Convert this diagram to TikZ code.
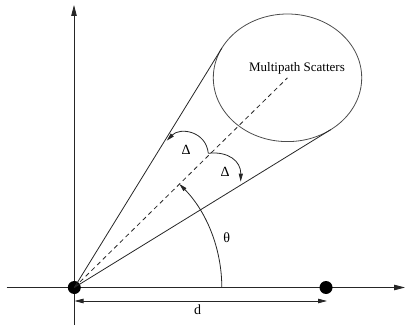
\documentclass[tikz,border=0pt]{standalone}
\usepackage{fontspec}
\setmainfont{Liberation Serif}
\usetikzlibrary{arrows.meta,shapes.geometric}
\begin{document}
\begin{tikzpicture}[x=1pt,y=1pt,
  line/.style={line width=0.8pt,draw=black!85},
  tip/.style={-{Triangle[length=8pt,width=4pt]}},
  axtip/.style={-{Triangle[length=11pt,width=5.5pt]}},
  dot/.style={circle,fill=black,minimum size=13pt,inner sep=0pt},
  lab/.style={font=\fontsize{14}{16}\selectfont,inner sep=0pt}]
\useasboundingbox (0,0) rectangle (406,329);
% axes
\coordinate (xl) at (6.5,41.5);
\coordinate (xr) at (405,41.5);
\coordinate (yb) at (74,4);
\coordinate (yt) at (74,324);
\draw[line,axtip] (xl) -- (xr);
\draw[line,axtip] (yb) -- (yt);
% dots
\node[dot] (o) at (74.3,41.5) {};
\node[dot] (p) at (326,41.5) {};
% scatter ellipse
\node[ellipse,draw=black!70,line width=0.8pt,minimum width=148.4pt,minimum height=127.6pt,inner sep=0pt] (sc) at (287.5,251.2) {};
\node[font=\fontsize{13}{15}\selectfont,inner sep=0pt] (mp) at (297,261) {Multipath Scatters};
% tangent lines
\coordinate (t1) at (221.9,281.0);
\coordinate (t2) at (330.8,199.4);
\draw[line] (o.center) -- (t1);
\draw[line] (o.center) -- (t2);
% dashed centre line
\draw[line,dash pattern=on 4.5pt off 3.5pt] (o.center) -- (sc.center);
% theta arc
\draw[line,tip] (221.8,41.5) arc[start angle=0,end angle=44.6,radius=147.5];
\node[lab] (th) at (226.7,91) {θ};
% Delta arcs
\coordinate (s) at (208.3,175.7);
\coordinate (e1) at (166.7,188.3);
\coordinate (e2) at (240.7,147.3);
\draw[line,tip] (s) .. controls (206,198) and (180,202) .. (e1);
\draw[line,tip] (s) .. controls (228,178) and (241,168) .. (e2);
\node[lab] (d1) at (186,179.5) {Δ};
\node[lab] (d2) at (225,157.5) {Δ};
% distance d
\coordinate (da) at (74.5,28);
\coordinate (db) at (327,28);
\draw[line,{Triangle[length=9pt,width=4.5pt]}-{Triangle[length=9pt,width=4.5pt]}] (da) -- (db);
\node[lab] (dl) at (197.7,19) {d};
\end{tikzpicture}
\end{document}
